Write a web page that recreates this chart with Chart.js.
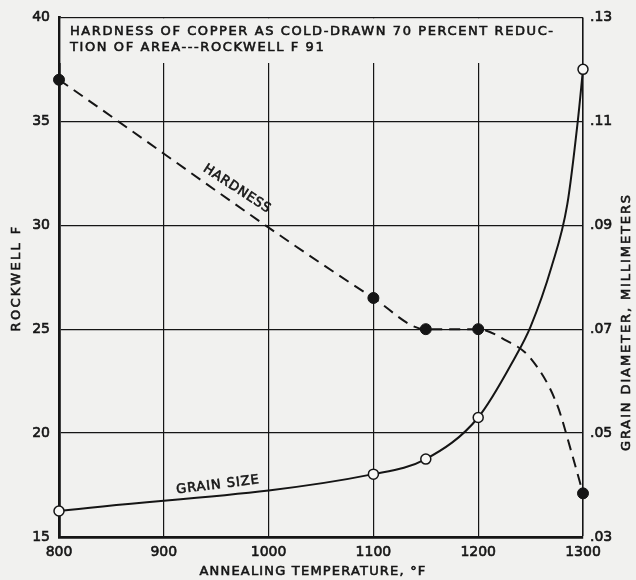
<!DOCTYPE html>
<html>
<head>
<meta charset="utf-8">
<script src="https://cdn.jsdelivr.net/npm/chart.js@4"></script>
<style>
html, body { margin: 0; padding: 0; background: #f1f1ef; }
</style>
</head>
<body>
<canvas id="chart" width="636" height="580"></canvas>
<script>
// Dureza (Rockwell F) según temperatura de recocido; los puntos sin marca son lecturas sobre la curva
const hardTemps = [800, 1100, 1150, 1200, 1225, 1250, 1275, 1290, 1300];
const hardness = [37, 26.5, 25, 25, 24.5, 23.6, 21.4, 18.9, 17.1];
const hardMarked = [1, 1, 1, 1, 0, 0, 0, 0, 1];

// Diámetro de grano (mm)
const grainTemps = [800, 1100, 1150, 1200, 1235, 1250, 1270, 1285, 1295, 1300];
const grainDiam = [0.035, 0.0421, 0.045, 0.053, 0.0645, 0.0705, 0.082, 0.094, 0.11, 0.12];
const grainMarked = [1, 1, 1, 1, 0, 0, 0, 0, 0, 1];

// Marcas de los ejes
const xTicks = [800, 900, 1000, 1100, 1200, 1300];
const leftTicks = [15, 20, 25, 30, 35, 40];
const rightTicks = [0.03, 0.05, 0.07, 0.09, 0.11, 0.13];

const titleLines = ['HARDNESS OF COPPER AS COLD-DRAWN 70 PERCENT REDUC-', 'TION OF AREA---ROCKWELL F 91'];

const PAPER = '#f1f1ef';
const INK = '#151515';
const FONT = "'DejaVu Sans'";

// Texto con espaciado ajustado a un ancho dado (centrado)
function spacedText(ctx, txt, x, y, width) {
    ctx.letterSpacing = '0px';
    const w0 = ctx.measureText(txt).width;
    const sp = (width - w0) / txt.length;
    ctx.letterSpacing = sp + 'px';
    const w = ctx.measureText(txt).width;
    ctx.textAlign = 'left';
    ctx.strokeText(txt, x - w / 2, y);
    ctx.fillText(txt, x - w / 2, y);
    ctx.letterSpacing = '0px';
}

function rotatedLabel(ctx, txt, cx, cy, angle, width) {
    ctx.save();
    ctx.translate(cx, cy);
    ctx.rotate(angle * Math.PI / 180);
    spacedText(ctx, txt, 0, 0, width);
    ctx.restore();
}

const paperPlugin = {
    id: 'paper',
    beforeDraw(chart) {
        const ctx = chart.ctx;
        ctx.save();
        ctx.fillStyle = PAPER;
        ctx.fillRect(0, 0, chart.width, chart.height);
        ctx.restore();
    },
    beforeDatasetsDraw(chart) {
        const ctx = chart.ctx;
        const a = chart.chartArea;
        ctx.save();
        // recuadro del título tapando la rejilla vertical
        ctx.fillStyle = PAPER;
        ctx.fillRect(a.left + 1.5, a.top + 1, a.right - a.left - 2.5, 63 - a.top - 1);
        ctx.fillStyle = INK;
        ctx.strokeStyle = INK;
        ctx.lineWidth = 0.6;
        ctx.font = '13px ' + FONT;
        ctx.textBaseline = 'middle';
        ctx.letterSpacing = '0px';
        const w0 = ctx.measureText(titleLines[0]).width;
        const sp = (483 - w0) / (titleLines[0].length - 1);
        ctx.letterSpacing = sp + 'px';
        ctx.textAlign = 'left';
        titleLines.forEach((line, i) => {
            ctx.strokeText(line, 70, 32 + i * 16);
            ctx.fillText(line, 70, 32 + i * 16);
        });
        ctx.restore();
    },
    afterDatasetsDraw(chart) {
        const ctx = chart.ctx;
        ctx.save();
        ctx.fillStyle = INK;
        ctx.strokeStyle = INK;
        ctx.lineWidth = 0.6;
        ctx.font = '13px ' + FONT;
        ctx.textBaseline = 'middle';
        rotatedLabel(ctx, 'HARDNESS', 237, 189, 33, 78);
        rotatedLabel(ctx, 'GRAIN SIZE', 218, 485, -7, 84);
        rotatedLabel(ctx, 'ROCKWELL F', 17, 278, -90, 107);
        rotatedLabel(ctx, 'GRAIN DIAMETER, MILLIMETERS', 627, 322, -90, 258);
        rotatedLabel(ctx, 'ANNEALING TEMPERATURE, °F', 313, 572, 0, 227);
        ctx.restore();
    }
};

const tickFont = { family: FONT, size: 14 };

const ctx = document.getElementById('chart').getContext('2d');
const chart = new Chart(ctx, {
    type: 'line',
    data: {
        datasets: [{
            label: 'Hardness',
            data: hardTemps.map((t, i) => ({ x: t, y: hardness[i] })),
            yAxisID: 'y',
            borderColor: INK,
            borderWidth: 2,
            borderDash: [11, 7],
            cubicInterpolationMode: 'monotone',
            pointRadius: hardMarked.map(m => m ? 5.5 : 0),
            pointBackgroundColor: INK,
            pointBorderColor: INK,
            pointBorderWidth: 1,
            fill: false,
            clip: false
        }, {
            label: 'Grain size',
            data: grainTemps.map((t, i) => ({ x: t, y: grainDiam[i] })),
            yAxisID: 'y2',
            borderColor: INK,
            borderWidth: 2,
            cubicInterpolationMode: 'monotone',
            pointRadius: grainMarked.map(m => m ? 5 : 0),
            pointBackgroundColor: '#f8f8f6',
            pointBorderColor: INK,
            pointBorderWidth: 1.5,
            fill: false,
            clip: false
        }]
    },
    options: {
        responsive: false,
        animation: false,
        devicePixelRatio: 1,
        layout: { padding: { top: 16, left: 0, right: 0, bottom: 0 } },
        plugins: {
            legend: { display: false },
            tooltip: { enabled: false }
        },
        scales: {
            x: {
                type: 'linear',
                min: 800,
                max: 1300,
                afterBuildTicks: s => { s.ticks = xTicks.map(v => ({ value: v })); },
                afterFit: s => { s.height = 43; },
                grid: {
                    color: INK,
                    lineWidth: c => c.tick && c.tick.value === 1300 ? 1.6 : 1.2,
                    drawTicks: false
                },
                border: { display: true, width: 2.8, color: INK },
                ticks: {
                    padding: 7,
                    color: INK,
                    font: tickFont,
                    textStrokeColor: INK,
                    textStrokeWidth: 0.6,
                    maxRotation: 0,
                    callback: v => String(v)
                }
            },
            y: {
                position: 'left',
                min: 15,
                max: 40,
                afterBuildTicks: s => { s.ticks = leftTicks.map(v => ({ value: v })); },
                afterFit: s => { s.width = 59; },
                grid: {
                    color: INK,
                    lineWidth: c => c.tick && c.tick.value === 40 ? 1.6 : 1.2,
                    drawTicks: false
                },
                border: { display: true, width: 2.8, color: INK },
                ticks: {
                    padding: 9,
                    color: INK,
                    font: tickFont,
                    textStrokeColor: INK,
                    textStrokeWidth: 0.6,
                    callback: v => String(v)
                }
            },
            y2: {
                position: 'right',
                min: 0.03,
                max: 0.13,
                afterBuildTicks: s => { s.ticks = rightTicks.map(v => ({ value: v })); },
                afterFit: s => { s.width = 53; },
                grid: { display: false, drawTicks: false },
                border: { display: false },
                ticks: {
                    padding: 7,
                    color: INK,
                    font: tickFont,
                    textStrokeColor: INK,
                    textStrokeWidth: 0.6,
                    callback: v => v.toFixed(2).replace(/^0/, '')
                }
            }
        }
    },
    plugins: [paperPlugin]
});
</script>
</body>
</html>
